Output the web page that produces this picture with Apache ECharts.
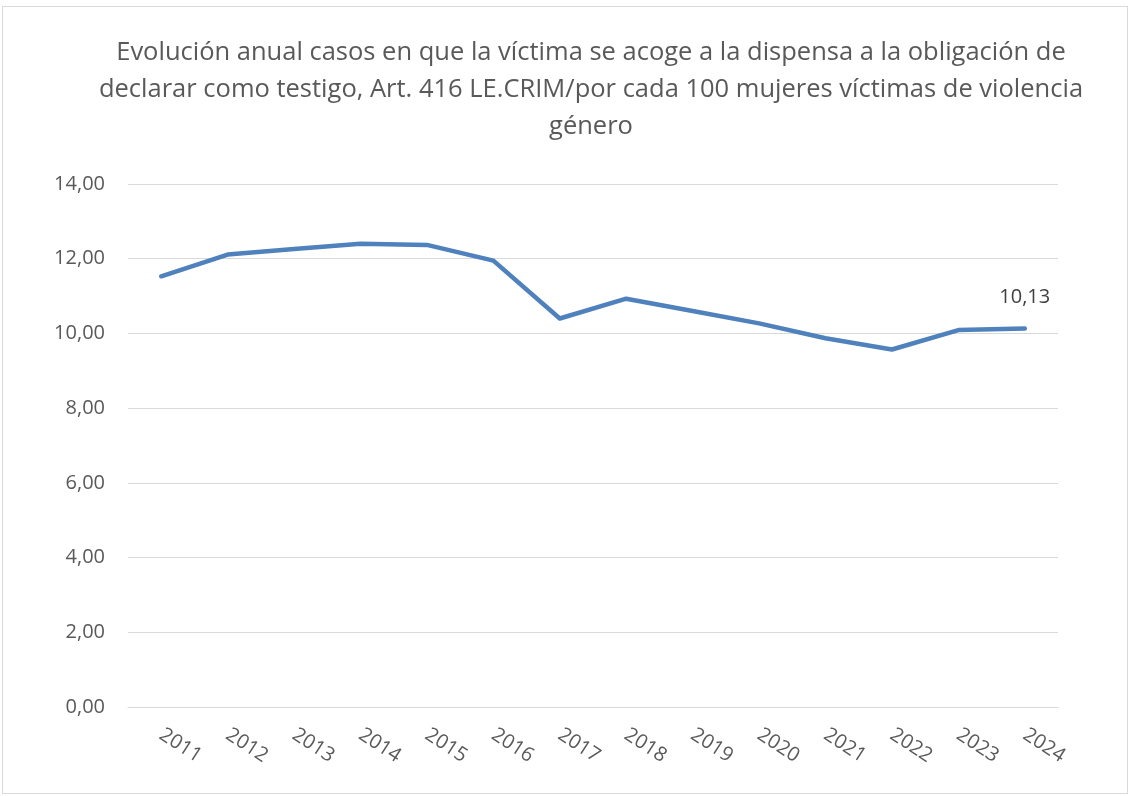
<!DOCTYPE html>
<html>
<head>
<meta charset="utf-8">
<script src="https://cdn.jsdelivr.net/npm/echarts@6/dist/echarts.min.js"></script>
<style>
  html, body { margin: 0; padding: 0; background: #fff; }
  #frame { position: absolute; left: 2px; top: 6px; width: 1126px; height: 788px; border: 1px solid #d9d9d9; box-sizing: border-box; }
  #chart { position: absolute; left: 0; top: 0; width: 1131px; height: 796px; }
</style>
</head>
<body>
<div id="frame"></div>
<div id="chart"></div>
<script>
const years = ['2011', '2012', '2013', '2014', '2015', '2016', '2017', '2018', '2019', '2020', '2021', '2022', '2023', '2024']
const casos = [11.53, 12.11, 12.26, 12.40, 12.37, 11.95, 10.40, 10.93, 10.60, 10.27, 9.87, 9.57, 10.09, 10.13]
const titleText = 'Evolución anual casos en que la víctima se acoge a la dispensa a la obligación de\ndeclarar como testigo, Art. 416 LE.CRIM/por cada 100 mujeres víctimas de violencia\ngénero'

const fmt = v => v.toFixed(2).replace('.', ',')

const myChart = echarts.init(document.getElementById('chart'))
const option = {
    backgroundColor: 'transparent',
    textStyle: { fontFamily: 'Open Sans' },
    title: {
        text: titleText,
        left: 586,
        textAlign: 'center',
        top: 29,
        textStyle: {
            color: '#595959',
            fontSize: 25.5,
            fontWeight: 'normal',
            lineHeight: 37,
            fontFamily: 'Open Sans',
        },
    },
    grid: {
        left: 128,
        right: 73,
        top: 184,
        bottom: 89,
        containLabel: false,
    },
    xAxis: {
        type: 'category',
        data: years,
        boundaryGap: true,
        axisLine: { lineStyle: { color: '#d9d9d9', width: 1 } },
        axisTick: { show: false },
        axisLabel: {
            color: '#595959',
            fontSize: 20,
            rotate: -33,
            margin: 26,
            interval: 0,
        },
    },
    yAxis: {
        type: 'value',
        min: 0,
        max: 14,
        interval: 2,
        axisLine: { show: false },
        axisTick: { show: false },
        splitLine: { lineStyle: { color: '#d9d9d9', width: 1 } },
        axisLabel: {
            color: '#595959',
            fontSize: 20,
            margin: 23,
            formatter: fmt,
        },
    },
    series: [{
        name: 'Casos',
        type: 'line',
        data: casos,
        symbol: 'none',
        lineStyle: { color: '#4f81bd', width: 4.5, cap: 'round', join: 'round' },
        markPoint: {
            symbol: 'circle',
            symbolSize: 0,
            data: [{ coord: [years.length - 1, casos[casos.length - 1]], value: casos[casos.length - 1] }],
            label: {
                show: true,
                position: 'top',
                distance: 21,
                color: '#404040',
                fontSize: 20,
                formatter: p => fmt(p.value),
            },
        },
    }],
}
option && myChart.setOption(option)
</script>
</body>
</html>
